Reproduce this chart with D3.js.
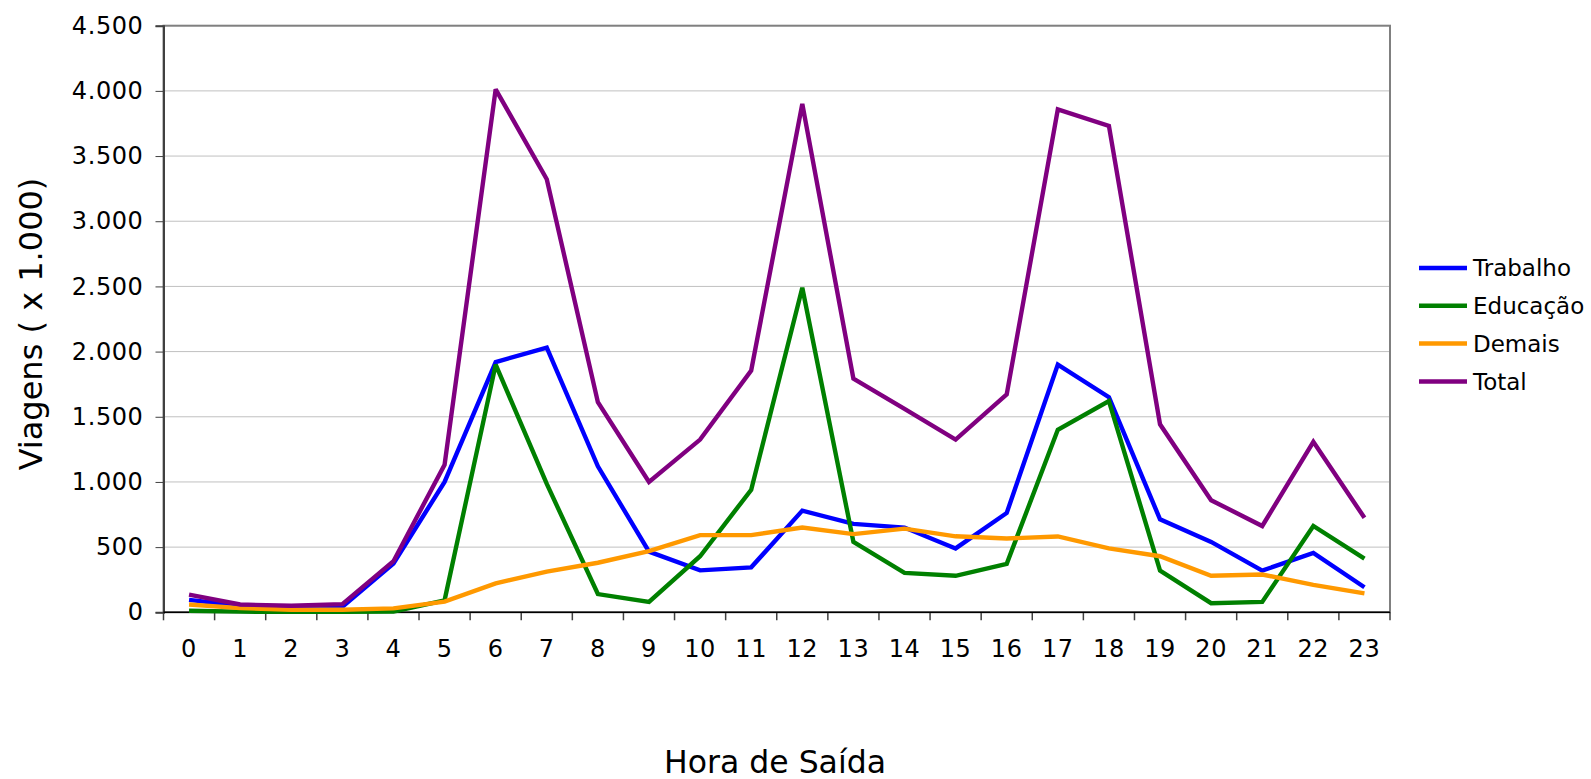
<!DOCTYPE html>
<html>
<head>
<meta charset="utf-8">
<script src="https://cdn.jsdelivr.net/npm/d3@7"></script>
<style>
  body { margin: 0; background: #fff; }
  svg { display: block; font-family: "DejaVu Sans", Verdana, sans-serif; }
</style>
</head>
<body>
<svg id="chart" width="1591" height="779"></svg>
<script>
// hours of departure
let hours = [0, 1, 2, 3, 4, 5, 6, 7, 8, 9, 10, 11, 12, 13, 14, 15, 16, 17, 18, 19, 20, 21, 22, 23];

// trips (x 1.000) per purpose
let trabalho = [95, 50, 40, 43, 375, 1000, 1920, 2030, 1120, 465, 322, 345, 780, 678, 650, 490, 762, 1900, 1650, 713, 540, 320, 455, 192];
let educacao = [12, 5, 3, 3, 5, 92, 1900, 985, 140, 80, 430, 940, 2490, 540, 302, 280, 372, 1400, 1620, 320, 70, 80, 662, 412];
let demais = [60, 32, 20, 20, 30, 82, 222, 312, 380, 470, 592, 592, 650, 600, 642, 583, 566, 582, 490, 430, 280, 290, 210, 145];
let total = [135, 60, 50, 63, 392, 1132, 4012, 3322, 1612, 1000, 1325, 1855, 3900, 1792, 1560, 1325, 1672, 3858, 3732, 1442, 860, 662, 1308, 725];

let seriesNames = ['Trabalho', 'Educação', 'Demais', 'Total'];
let seriesColors = ['#0000ff', '#008000', '#ff9900', '#800080'];
let yTicks = [0, 500, 1000, 1500, 2000, 2500, 3000, 3500, 4000, 4500];

let series = [trabalho, educacao, demais, total];

let svg = d3.select('#chart');

let plotLeft = 163.5, plotRight = 1390, plotTop = 25.7, plotBottom = 612.3;

let x = d3.scaleBand()
    .domain(hours)
    .range([plotLeft, plotRight])
    .padding(0);

let y = d3.scaleLinear()
    .domain([0, 4500])
    .range([plotBottom, plotTop]);

let ptFormat = d3.formatLocale({decimal: ',', thousands: '.', grouping: [3], currency: ['', '']}).format(',');

// gridlines
svg.append('g')
    .selectAll('line')
    .data(yTicks.slice(1))
    .enter()
    .append('line')
    .attr('x1', plotLeft)
    .attr('x2', plotRight)
    .attr('y1', d => y(d))
    .attr('y2', d => y(d))
    .attr('stroke', '#c0c0c0')
    .attr('stroke-width', 1);

// plot area border
svg.append('rect')
    .attr('x', plotLeft)
    .attr('y', plotTop)
    .attr('width', plotRight - plotLeft)
    .attr('height', plotBottom - plotTop)
    .attr('fill', 'none')
    .attr('stroke', '#808080')
    .attr('stroke-width', 2);

// y axis
let yAxis = svg.append('g')
    .attr('transform', 'translate(' + plotLeft + ',0)')
    .call(d3.axisLeft(y).tickValues(yTicks).tickFormat(ptFormat).tickSize(8).tickPadding(12));
yAxis.select('.domain').attr('stroke', '#404040').attr('stroke-width', 2);
yAxis.selectAll('.tick line').attr('stroke', '#404040');
yAxis.selectAll('text')
    .attr('font-size', 24)
    .attr('letter-spacing', 0.6)
    .attr('font-family', '"DejaVu Sans", Verdana, sans-serif')
    .attr('fill', '#000');

// x axis labels
let xAxis = svg.append('g')
    .attr('transform', 'translate(0,' + plotBottom + ')')
    .call(d3.axisBottom(x).tickSize(0));
xAxis.select('.domain').remove();
xAxis.selectAll('text')
    .attr('y', 45)
    .attr('dy', null)
    .attr('font-size', 24)
    .attr('letter-spacing', 0.6)
    .attr('font-family', '"DejaVu Sans", Verdana, sans-serif')
    .attr('fill', '#000');

// x tick marks between categories
let boundaries = hours.map(h => x(h)).concat([x(hours[hours.length - 1]) + x.bandwidth()]);
svg.append('g')
    .selectAll('line')
    .data(boundaries)
    .enter()
    .append('line')
    .attr('x1', d => d)
    .attr('x2', d => d)
    .attr('y1', plotBottom)
    .attr('y2', plotBottom + 8)
    .attr('stroke', '#404040')
    .attr('stroke-width', 1.5);

svg.append('line')
    .attr('x1', plotLeft)
    .attr('x2', plotRight)
    .attr('y1', plotBottom)
    .attr('y2', plotBottom)
    .attr('stroke', '#000')
    .attr('stroke-width', 1.5);

// lines
let line = d3.line()
    .x((d, i) => x(hours[i]) + x.bandwidth() / 2)
    .y(d => y(d));

svg.append('g')
    .selectAll('path')
    .data(series)
    .enter()
    .append('path')
    .attr('d', d => line(d))
    .attr('fill', 'none')
    .attr('stroke', (d, i) => seriesColors[i])
    .attr('stroke-width', 4.4)
    .attr('stroke-linejoin', 'miter')
    .attr('stroke-miterlimit', 2);

// axis titles
svg.append('text')
    .attr('x', 775)
    .attr('y', 773)
    .attr('text-anchor', 'middle')
    .attr('font-size', 31.5)
    .text('Hora de Saída');

svg.append('text')
    .attr('transform', 'translate(42,324) rotate(-90)')
    .attr('text-anchor', 'middle')
    .attr('font-size', 32)
    .text('Viagens ( x 1.000)');

// legend
let legend = svg.append('g')
    .selectAll('g')
    .data(seriesNames)
    .enter()
    .append('g')
    .attr('transform', (d, i) => 'translate(1419,' + (268 + i * 37.8) + ')');

legend.append('line')
    .attr('x1', 0)
    .attr('x2', 48)
    .attr('stroke', (d, i) => seriesColors[i])
    .attr('stroke-width', 4.5);

legend.append('text')
    .attr('x', 54)
    .attr('dy', '0.36em')
    .attr('font-size', 23)
    .text(d => d);
</script>
</body>
</html>
